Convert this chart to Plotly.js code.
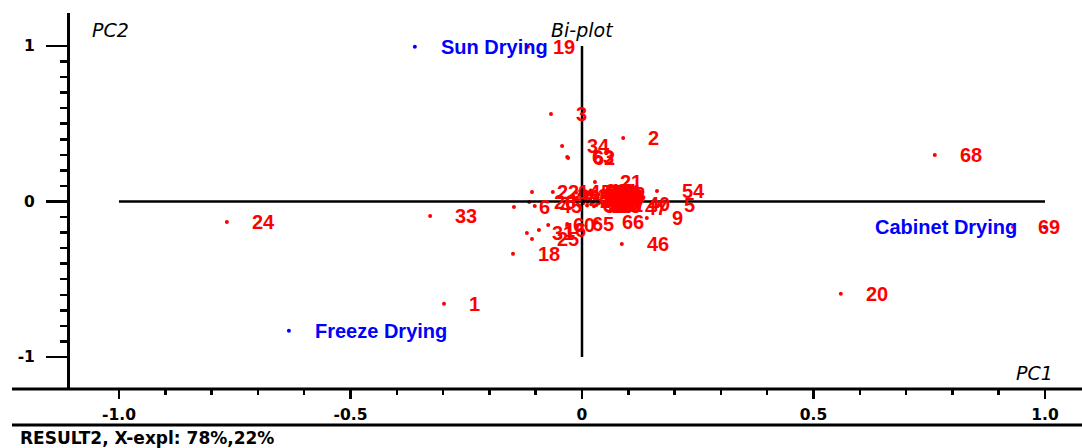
<!DOCTYPE html>
<html>
<head>
<meta charset="utf-8">
<script src="https://cdn.plot.ly/plotly-3.0.1.min.js"></script>
<style>html,body{margin:0;padding:0;background:#fff;}#chart{width:1082px;height:448px;}</style>
</head>
<body>
<div id="chart"></div>
<script>
// Sample scores (red)
const sampleLabels = ['1','2','3','4','5','6','7','8','9','10','11','12','13','14','15','16','17','18','19','20',
  '21','22','23','24','25','26','27','28','29','30','31','32','33','34','35','36','37','38','39','40',
  '41','42','43','44','45','46','47','48','49','50','51','52','53','54','55','56','57','58','59','60',
  '61','62','63','64','65','66','67','68','69'];
const sampleX = [-0.298, 0.089, -0.067, 0.010, 0.166, -0.147, 0.018, -0.006, 0.140, 0.022,
  0.003, 0.013, 0.027, -0.063, -0.011, -0.093, 0.007, -0.149, -0.117, 0.559,
  0.028, -0.108, 0.020, -0.767, -0.108, -0.114, -0.015, 0.030, 0.011, -0.003,
  -0.119, 0.025, -0.328, -0.043, 0.015, -0.009, 0.033, 0.004, -0.019, 0.089,
  0.028, 0.012, 0.000, 0.021, -0.102, 0.086, 0.082, 0.035, 0.008, -0.013,
  0.031, 0.017, -0.006, 0.162, 0.026, 0.001, 0.034, -0.017, 0.009, -0.073,
  0.019, -0.030, -0.032, -0.004, -0.032, 0.032, 0.036, 0.762, 0.931];
const sampleY = [-0.658, 0.408, 0.562, 0.030, -0.022, -0.035, 0.008, 0.042, -0.106, 0.052,
  -0.010, 0.060, 0.020, 0.061, 0.024, -0.183, 0.066, -0.337, 0.995, -0.594,
  0.125, 0.061, -0.018, -0.132, -0.241, -0.003, 0.002, 0.036, -0.026, 0.055,
  -0.202, -0.004, -0.093, 0.356, 0.044, -0.020, 0.010, 0.019, 0.037, -0.016,
  0.063, -0.003, 0.004, 0.027, -0.029, -0.273, -0.042, 0.047, 0.050, 0.058,
  -0.022, 0.016, -0.028, 0.067, -0.030, 0.035, 0.025, 0.013, 0.008, -0.151,
  0.070, 0.279, 0.286, 0.068, -0.145, -0.132, -0.012, 0.299, -0.164];

// Variable loadings (blue)
const varLabels = ['Sun Drying', 'Freeze Drying', 'Cabinet Drying'];
const varX = [-0.361, -0.633, 1.000];
const varY = [0.995, -0.832, -0.164];

// Axis tick labels
const xTickVals = [-1, -0.5, 0, 0.5, 1];
const xTickText = ['-1.0', '-0.5', '0', '0.5', '1.0'];
const yTickVals = [-1, 0, 1];
const yTickText = ['-1', '0', '1'];

const leftPlacedLabels = ['Cabinet Drying'];

const minorX = [], minorY = [];
for (let i = -10; i <= 10; i++) { if (i % 5 !== 0) minorX.push(i / 10); if (i % 10 !== 0) minorY.push(i / 10); }

const labelFont = {family: 'Liberation Sans, Arial, sans-serif', size: 20, weight: 'bold'};
const annotations = [];
sampleLabels.forEach((t, i) => {
  annotations.push({x: sampleX[i], y: sampleY[i], xref: 'x', yref: 'y', text: t, showarrow: false,
    xanchor: 'left', yanchor: 'middle', xshift: 23, font: Object.assign({}, labelFont, {color: '#ff0000'})});
});
varLabels.forEach((t, i) => {
  const left = leftPlacedLabels.includes(t);
  annotations.push({x: varX[i], y: varY[i], xref: 'x', yref: 'y', text: t, showarrow: false,
    xanchor: left ? 'right' : 'left', yanchor: 'middle', xshift: left ? -26 : 24,
    font: Object.assign({}, labelFont, {color: '#0000ff'})});
});
const titleFont = {family: 'DejaVu Sans, sans-serif', size: 19, style: 'italic', color: '#000'};
annotations.push({xref: 'x', yref: 'paper', x: 0, y: 0.955, text: 'Bi-plot', showarrow: false, xanchor: 'center', yanchor: 'middle', font: titleFont});
annotations.push({xref: 'paper', yref: 'paper', x: 0.0198, y: 0.955, text: 'PC2', showarrow: false, xanchor: 'left', yanchor: 'middle', font: titleFont});
annotations.push({xref: 'paper', yref: 'paper', x: 0.9526, y: 0.043, text: 'PC1', showarrow: false, xanchor: 'center', yanchor: 'middle', font: titleFont});
annotations.push({xref: 'paper', yref: 'paper', x: -0.0514, y: -0.130, text: 'RESULT2, X-expl: 78%,22%', showarrow: false, xanchor: 'left', yanchor: 'middle',
  font: {family: 'DejaVu Sans, sans-serif', size: 17, weight: 'bold', color: '#000'}});

const traces = [
  {type: 'scatter', mode: 'markers', x: sampleX, y: sampleY, marker: {color: '#ff0000', size: 4}, hoverinfo: 'text', text: sampleLabels},
  {type: 'scatter', mode: 'markers', x: varX, y: varY, marker: {color: '#0000ff', size: 4}, hoverinfo: 'text', text: varLabels}
];

const tickFont = {family: 'DejaVu Sans, sans-serif', size: 15.5, weight: 'bold', color: '#000'};
const layout = {
  width: 1082, height: 448,
  margin: {l: 70, r: 0, t: 13, b: 59, pad: 0},
  paper_bgcolor: '#fff', plot_bgcolor: '#fff',
  showlegend: false,
  xaxis: {range: [-1.1058, 1.0799], showgrid: false, zeroline: false, showline: false,
    tickmode: 'array', tickvals: xTickVals, ticktext: xTickText, ticks: 'outside', ticklen: 9, tickwidth: 2.5, tickcolor: '#000',
    tickfont: tickFont, ticklabelstandoff: 2,
    minor: {tickmode: 'array', tickvals: minorX, ticks: 'outside', ticklen: 5, tickwidth: 2.5, tickcolor: '#000', showgrid: false}},
  yaxis: {range: [-1.206, 1.212], showgrid: false, zeroline: false, showline: true, linewidth: 3, linecolor: '#000',
    tickmode: 'array', tickvals: yTickVals, ticktext: yTickText, ticks: 'outside', ticklen: 21, tickwidth: 2.5, tickcolor: '#000',
    tickfont: tickFont, ticklabelstandoff: 8,
    minor: {tickmode: 'array', tickvals: minorY, ticks: 'outside', ticklen: 7, tickwidth: 2.5, tickcolor: '#000', showgrid: false}},
  shapes: [
    {type: 'line', xref: 'x', yref: 'y', x0: -1, x1: 1, y0: 0, y1: 0, line: {color: '#000', width: 2.5}},
    {type: 'line', xref: 'x', yref: 'y', x0: 0, x1: 0, y0: -1, y1: 1, line: {color: '#000', width: 2.5}},
    {type: 'line', xref: 'paper', yref: 'paper', x0: -0.0573, x1: 1, y0: 0, y1: 0, line: {color: '#000', width: 3}},
    {type: 'line', xref: 'paper', yref: 'paper', x0: -0.0573, x1: 1, y0: -0.0957, y1: -0.0957, line: {color: '#000', width: 3}}
  ],
  annotations: annotations
};

Plotly.newPlot('chart', traces, layout, {displayModeBar: false, staticPlot: true});
</script>
</body>
</html>
